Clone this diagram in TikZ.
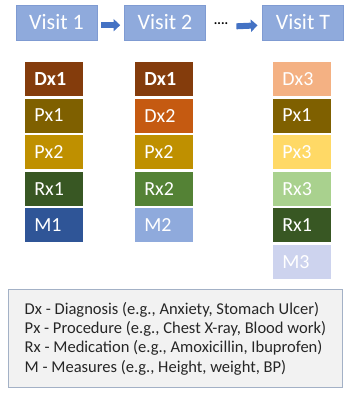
\documentclass[tikz,border=0pt]{standalone}
\usepackage{fontspec}
\setmainfont{Carlito}
\usetikzlibrary{positioning,arrows.meta}
\definecolor{visitfill}{HTML}{8FAADC}
\definecolor{visitline}{HTML}{7F9BD2}
\definecolor{arrowblue}{HTML}{4472C4}
\definecolor{dxA}{HTML}{843C0C}
\definecolor{dxB}{HTML}{C55A11}
\definecolor{dxC}{HTML}{F4B183}
\definecolor{pxA}{HTML}{7F6000}
\definecolor{pxB}{HTML}{BF9000}
\definecolor{pxC}{HTML}{FFD966}
\definecolor{rxA}{HTML}{385723}
\definecolor{rxB}{HTML}{548235}
\definecolor{rxC}{HTML}{A9D18E}
\definecolor{msA}{HTML}{2F5597}
\definecolor{msB}{HTML}{8FAADC}
\definecolor{msC}{HTML}{CDD3EE}
\definecolor{legendfill}{HTML}{F2F2F2}
\definecolor{legendline}{HTML}{A3B1C6}
\definecolor{ink}{HTML}{262626}

\begin{document}
\begin{tikzpicture}[x=0.75pt, y=-0.75pt,
    >={Triangle[length=5pt,width=9pt]},
    visit/.style={fill=visitfill, draw=visitline, line width=0.4pt, text=white,
      minimum width=60.75pt, minimum height=26.25pt, font=\fontsize{16.5}{20}\selectfont},
    code/.style={fill=#1, text=white, text width=29.5pt, inner xsep=7pt, align=left,
      minimum height=25.5pt, font=\fontsize{15}{18}\selectfont},
    flow/.style={->, arrowblue, line width=4.5pt}]
  \useasboundingbox (0,0) rectangle (359,399);
  % visits
  \node[visit] (v1) at (56.5,22.5) {Visit 1};
  \node[visit] (v2) at (165,22.5) {Visit 2};
  \node[visit] (vT) at (303,22.5) {Visit T};
  \node[inner sep=0pt, font=\bfseries] (dots) at (221,24) {....};
  \draw[flow] ([yshift=-2pt]v1.east) -- ([yshift=-2pt]v2.west)
    [shorten <=3pt, shorten >=3pt];
  \draw[flow, shorten <=6pt, shorten >=3.5pt] ([yshift=-2pt]dots.east) -- ([yshift=-2pt]vT.west);
  % visit 1 codes
  \node[code=dxA] (a1) at (54,79) {\textbf{Dx1}};
  \node[code=pxA, below=1.5pt of a1] (a2) {Px1};
  \node[code=pxB, below=1.5pt of a2] (a3) {Px2};
  \node[code=rxA, below=1.5pt of a3] (a4) {Rx1};
  \node[code=msA, below=1.5pt of a4] (a5) {M1};
  % visit 2 codes
  \node[code=dxA] (b1) at (164,79) {\textbf{Dx1}};
  \node[code=dxB, below=1.5pt of b1] (b2) {Dx2};
  \node[code=pxB, below=1.5pt of b2] (b3) {Px2};
  \node[code=rxB, below=1.5pt of b3] (b4) {Rx2};
  \node[code=msB, below=1.5pt of b4] (b5) {M2};
  % visit T codes
  \node[code=dxC] (t1) at (302,79) {Dx3};
  \node[code=pxA, below=1.5pt of t1] (t2) {Px1};
  \node[code=pxC, below=1.5pt of t2] (t3) {Px3};
  \node[code=rxC, below=1.5pt of t3] (t4) {Rx3};
  \node[code=rxA, below=1.5pt of t4] (t5) {Rx1};
  \node[code=msC, below=1.5pt of t5] (t6) {M3};
  % legend
  \node[anchor=north west, fill=legendfill, draw=legendline, line width=0.6pt,
    minimum width=250.5pt, minimum height=73.5pt, align=left, text=ink,
    font=\fontsize{12.4}{14.5}\selectfont] (legend) at (8,289)
    {Dx - Diagnosis (e.g., Anxiety, Stomach Ulcer)\\
     Px - Procedure (e.g., Chest X-ray, Blood work)\\
     Rx - Medication (e.g., Amoxicillin, Ibuprofen)\\
     M - Measures (e.g., Height, weight, BP)};
\end{tikzpicture}
\end{document}
